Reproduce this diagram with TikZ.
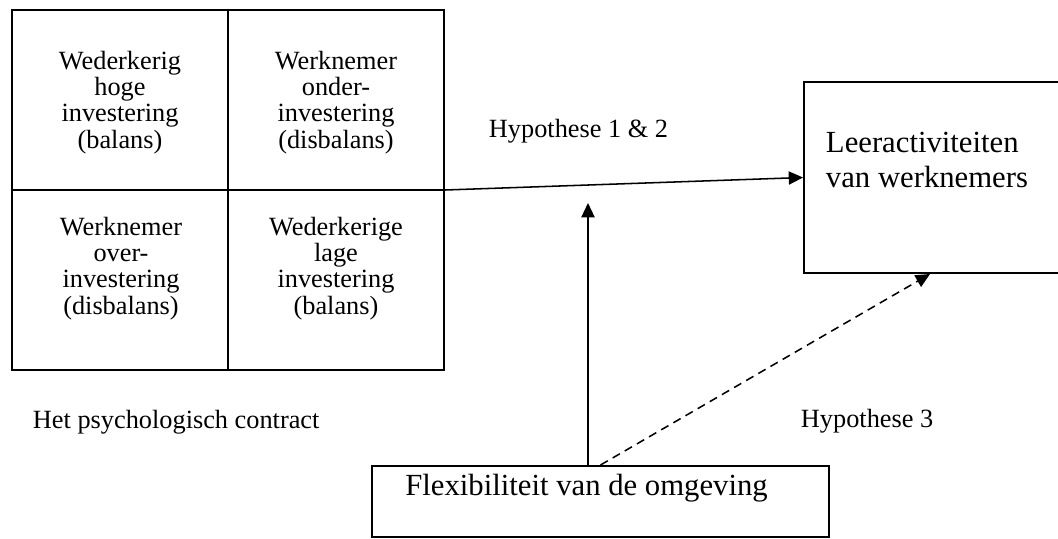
\documentclass[tikz,border=0pt]{standalone}
\usepackage{fontspec}
\setmainfont{Liberation Serif}
\usetikzlibrary{arrows.meta}

\begin{document}
\begin{tikzpicture}[x=0.456pt, y=-0.456pt, line width=0.9pt,
    box/.style={draw=black, shape=rectangle, inner sep=0pt},
    cel/.style={align=center, inner sep=0pt, anchor=north, font=\fontsize{12}{12}\selectfont},
    lbl/.style={inner sep=0pt, anchor=base west, font=\fontsize{12}{14}\selectfont},
    groot/.style={inner sep=0pt, font=\fontsize{14}{16}\selectfont},
    pijl/.style={line width=0.7pt, -{Triangle[length=6.5pt, width=6pt]}},
    streep/.style={dash pattern=on 3.8pt off 2.6pt}
]
\useasboundingbox (0,0) rectangle (1058,538);

% --- Psychologisch contract (2x2) ---
\node[box, minimum width=197pt, minimum height=164.2pt] (grid) at (228,190) {};
\draw (grid.north) -- (grid.south); % verticale scheiding
\draw (grid.west) -- (grid.east);   % horizontale scheiding

\node[cel] (c11) at (120,50)  {Wederkerig\\hoge\\investering\\(balans)};
\node[cel] (c12) at (336,50)  {Werknemer\\onder-\\investering\\(disbalans)};
\node[cel] (c21) at (121,216) {Werknemer\\over-\\investering\\(disbalans)};
\node[cel] (c22) at (336,216) {Wederkerige\\lage\\investering\\(balans)};

\node[lbl] (psy) at (32,428) {Het psychologisch contract};

% --- Leeractiviteiten ---
\node[box, minimum width=119pt, minimum height=87.1pt] (leer) at (934.5,177.5) {};
\node[groot, anchor=north west, align=left] (leertxt) at (825,131) {Leeractiviteiten\\van werknemers};

% --- Flexibiliteit ---
\node[box, minimum width=208.4pt, minimum height=32.4pt] (flex) at (600.5,501.5) {};
\node[groot, anchor=base] (flextxt) at (586.5,495) {Flexibiliteit van de omgeving};

% --- Pijlen ---
\coordinate (mod) at (588,203);
\coordinate (h3) at (930,274);
\draw[pijl] (grid.east) -- (leer.west);
\draw[pijl] (flex.north -| mod) -- (mod);
\draw[pijl, streep] (flex.north) -- (h3);

\node[lbl] (hyp12) at (488,137) {Hypothese 1 \& 2};
\node[lbl] (hyp3) at (800,427) {Hypothese 3};

\end{tikzpicture}
\end{document}
